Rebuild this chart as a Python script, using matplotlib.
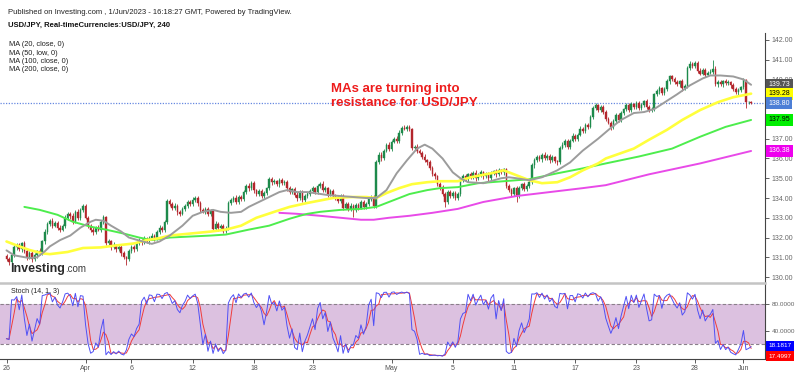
import matplotlib
matplotlib.use('Agg')
import matplotlib.pyplot as plt
import numpy as np
import pandas as pd

plt.rcParams['font.family'] = ['Liberation Sans', 'DejaVu Sans']

# USD/JPY 4h closes, 26 Mar -> 1 Jun 2023
first_open = 131.05
close = [
    130.90, 130.75, 131.10, 131.50, 131.60, 131.40, 131.70, 131.30, 131.00, 131.20,
    130.90, 131.10, 131.30, 131.20, 131.80, 132.30, 132.70, 132.85, 132.60, 132.75,
    132.50, 132.40, 132.60, 133.00, 133.20, 133.10, 132.80, 133.30, 133.00, 133.40,
    133.60, 133.00, 132.60, 132.40, 132.30, 132.50, 132.40, 132.80, 133.05, 131.70,
    131.80, 131.50, 131.60, 131.40, 131.50, 131.20, 131.00, 130.90, 131.30, 131.50,
    131.40, 131.70, 131.85, 131.75, 131.95, 131.80, 132.00, 132.10, 131.95, 132.30,
    132.50, 132.40, 132.80, 133.85, 133.70, 133.50, 133.60, 133.30, 133.20, 133.45,
    133.60, 133.80, 133.70, 133.90, 134.00, 133.75, 133.40, 133.30, 133.45, 133.20,
    133.35, 132.45, 132.70, 132.50, 132.60, 132.35, 132.45, 133.75, 133.90, 134.00,
    133.80, 134.05, 133.95, 134.30, 134.60, 134.50, 134.75, 134.40, 134.20, 134.35,
    134.10, 134.25, 134.50, 134.95, 134.80, 134.85, 134.70, 134.90, 134.75, 134.80,
    134.50, 134.30, 134.45, 134.15, 134.00, 134.30, 133.90, 134.10, 134.20, 134.35,
    134.50, 134.30, 134.60, 134.70, 134.40, 134.50, 134.20, 134.35, 134.10, 134.00,
    133.85, 134.10, 133.50, 133.70, 133.45, 133.60, 133.40, 133.65, 133.50, 133.80,
    133.55, 133.70, 133.95, 134.05, 133.60, 135.80, 136.20, 136.00, 136.40, 136.70,
    136.50, 136.85, 137.00, 136.90, 137.30, 137.55, 137.50, 137.60, 137.50, 136.55,
    136.60, 136.40, 136.30, 136.10, 135.90, 135.80, 135.50, 135.20, 135.10, 134.70,
    134.55, 134.20, 133.80, 134.30, 134.10, 134.25, 134.00, 134.20, 134.95, 135.10,
    134.95, 135.20, 135.05, 135.25, 135.00, 135.15, 135.30, 135.10, 135.20, 135.00,
    135.25, 135.35, 135.20, 135.40, 135.30, 135.45, 134.60, 134.40, 134.20, 134.50,
    134.10, 134.50, 134.70, 134.45, 134.60, 134.80, 135.65, 135.90, 136.10, 135.95,
    136.20, 136.00, 136.15, 135.90, 136.05, 135.85, 135.80, 136.55, 136.70, 136.90,
    136.60, 136.90, 137.15, 137.00, 137.20, 137.50, 137.40, 137.70, 137.60, 138.10,
    138.55, 138.70, 138.45, 138.60, 138.35, 138.00, 137.80, 137.60, 137.90, 138.20,
    137.95, 138.30, 138.50, 138.70, 138.45, 138.75, 138.60, 138.80, 138.55, 138.70,
    138.90, 138.60, 138.45, 138.50, 139.25, 139.40, 139.55, 139.30, 139.50, 139.90,
    140.15, 140.00, 139.85, 139.75, 139.90, 139.55, 139.65, 140.60, 140.80, 140.70,
    140.85, 140.45, 140.30, 140.50, 140.25, 140.35, 140.40, 140.55, 139.75, 139.85,
    139.75, 139.90, 139.80, 139.85, 139.70, 139.50, 139.35, 139.45, 139.60, 139.95,
    138.85, 138.85, 138.80,
]
upper_wick = [
    .10, .12, .08, .15, .10, .12, .08, .10, .15, .10,
    .12, .10, .08, .15, .10, .12, .10, .08, .12, .10,
    .10, .15, .10, .12, .10, .08, .15, .10, .12, .10,
    .12, .10, .08, .10, .12, .10, .15, .10, .08, .05,
    .12, .10, .15, .08, .10, .12, .10, .08, .10, .12,
    .10, .08, .12, .10, .15, .10, .08, .12, .10, .10,
    .12, .10, .08, .08, .10, .12, .15, .10, .08, .12,
    .10, .12, .08, .15, .10, .10, .12, .08, .10, .12,
    .10, .05, .12, .10, .08, .10, .12, .08, .10, .12,
    .15, .10, .08, .12, .10, .15, .10, .12, .08, .10,
    .12, .10, .08, .10, .12, .10, .08, .10, .12, .10,
    .10, .12, .08, .10, .15, .10, .12, .08, .10, .12,
    .10, .08, .12, .10, .15, .10, .08, .12, .10, .08,
    .12, .10, .08, .12, .10, .15, .10, .08, .12, .10,
    .10, .12, .08, .10, .12, .10, .15, .12, .10, .10,
    .15, .10, .08, .12, .15, .10, .12, .10, .08, .05,
    .10, .12, .08, .10, .12, .08, .10, .12, .10, .08,
    .10, .12, .08, .10, .12, .10, .08, .10, .08, .12,
    .10, .08, .12, .10, .15, .10, .12, .08, .10, .12,
    .10, .08, .12, .10, .08, .08, .05, .12, .10, .08,
    .12, .10, .08, .12, .10, .10, .10, .12, .08, .10,
    .10, .12, .08, .10, .12, .10, .08, .10, .12, .10,
    .08, .10, .12, .10, .08, .12, .10, .08, .10, .12,
    .10, .12, .08, .10, .12, .08, .10, .12, .10, .08,
    .10, .12, .08, .10, .12, .10, .08, .10, .12, .10,
    .08, .10, .12, .10, .08, .12, .10, .08, .10, .12,
    .10, .08, .12, .10, .08, .10, .12, .08, .12, .10,
    .10, .08, .12, .10, .08, .10, .12, .45, .12, .10,
    .10, .08, .12, .10, .08, .10, .12, .10, .08, .10,
    .05, .08, .06,
]
lower_wick = [
    .10, .15, .10, .08, .12, .10, .15, .10, .12, .10,
    .12, .10, .15, .08, .10, .12, .10, .12, .10, .08,
    .12, .10, .08, .12, .10, .15, .10, .08, .12, .10,
    .10, .08, .12, .10, .15, .10, .08, .12, .10, .10,
    .10, .12, .08, .15, .10, .12, .10, .30, .10, .08,
    .12, .10, .08, .12, .10, .08, .12, .10, .15, .08,
    .10, .12, .10, .10, .08, .12, .10, .15, .10, .08,
    .12, .10, .08, .10, .12, .15, .10, .08, .12, .10,
    .10, .12, .08, .15, .10, .12, .10, .08, .10, .12,
    .10, .08, .12, .10, .08, .12, .10, .15, .10, .08,
    .12, .10, .08, .10, .12, .08, .10, .12, .10, .08,
    .12, .10, .08, .12, .15, .10, .12, .10, .08, .10,
    .10, .12, .08, .10, .12, .10, .15, .08, .12, .10,
    .10, .12, .10, .08, .12, .10, .35, .10, .12, .08,
    .12, .10, .08, .10, .12, .10, .08, .12, .10, .08,
    .10, .12, .08, .10, .12, .10, .08, .10, .12, .10,
    .12, .10, .08, .12, .10, .12, .08, .10, .12, .10,
    .12, .10, .25, .10, .08, .12, .10, .08, .10, .12,
    .10, .12, .08, .10, .12, .10, .08, .12, .10, .12,
    .08, .10, .12, .08, .10, .12, .10, .08, .12, .10,
    .30, .10, .08, .12, .10, .08, .10, .12, .10, .08,
    .12, .10, .08, .12, .10, .08, .12, .10, .08, .10,
    .12, .10, .08, .12, .10, .08, .10, .12, .10, .08,
    .10, .12, .08, .10, .12, .10, .08, .15, .10, .12,
    .10, .08, .12, .10, .08, .12, .10, .08, .10, .12,
    .10, .08, .12, .10, .08, .10, .12, .10, .08, .10,
    .12, .10, .08, .10, .12, .15, .10, .08, .10, .12,
    .10, .12, .08, .10, .12, .10, .08, .10, .10, .12,
    .10, .12, .08, .10, .12, .10, .08, .12, .10, .08,
    .30, .08, .06,
]

# moving averages, sampled along the drawn lines (bar index, value)
ma20_bar = [0, 3, 9, 12, 15, 17, 21, 25, 29, 33, 35, 38, 41, 45, 48, 52, 57, 60, 64, 69,
            73, 77, 81, 84, 88, 92, 95, 99, 103, 107, 110, 114, 118, 126, 131, 136, 141, 145,
            149, 153, 157, 161, 164, 167, 171, 175, 178, 181, 187, 194, 197, 200, 205, 210,
            216, 221, 226, 232, 237, 241, 246, 250, 254, 257, 263, 268, 273, 276, 280, 285,
            289, 292]
ma20_val = [131.35, 131.10, 130.96, 131.00, 131.30, 131.55, 131.87, 132.10, 132.50, 132.80,
            132.90, 132.85, 132.60, 132.30, 132.00, 131.85, 131.68, 131.80, 132.10, 132.60,
            133.10, 133.30, 133.40, 133.30, 133.25, 133.30, 133.55, 133.80, 134.05, 134.30,
            134.40, 134.30, 134.30, 134.15, 134.10, 134.05, 134.00, 134.00, 134.40, 135.25,
            135.90, 136.50, 136.70, 136.50, 136.00, 135.30, 135.00, 134.80, 134.75, 135.00,
            135.05, 135.00, 134.90, 135.05, 135.40, 135.80, 136.40, 137.00, 137.55, 137.95,
            138.30, 138.35, 138.50, 138.75, 139.25, 139.70, 140.05, 140.20, 140.20, 140.15,
            140.00, 139.73]
ma50_bar = [0, 4, 9, 14, 17, 24, 30, 37, 43, 50, 55, 60, 64, 72, 80, 86, 92, 98, 105, 111,
            118, 122, 128, 135, 141, 145, 149, 154, 159, 165, 170, 177, 182, 190, 195, 200,
            205, 210, 216, 221, 226, 232, 235, 246, 252, 259, 265, 272, 279, 285, 292]
ma50_val = [131.80, 131.60, 131.37, 131.20, 131.16, 131.27, 131.47, 131.50, 131.60, 131.70,
            131.87, 131.97, 132.10, 132.20, 132.30, 132.40, 132.60, 133.00, 133.30, 133.55,
            133.75, 133.85, 134.00, 134.05, 134.05, 134.00, 134.25, 134.50, 134.70, 134.80,
            134.85, 134.85, 135.05, 135.25, 135.40, 135.15, 134.90, 134.75, 134.80, 135.05,
            135.40, 135.75, 136.00, 136.50, 136.95, 137.45, 137.95, 138.45, 138.85, 139.10,
            139.28]
ma100_bar = [7, 13, 20, 26, 33, 39, 46, 52, 57, 64, 72, 80, 86, 95, 103, 111, 115, 118, 123,
             131, 139, 145, 152, 158, 165, 170, 177, 185, 195, 205, 216, 226, 235, 248, 261,
             272, 282, 292]
ma100_val = [133.55, 133.40, 133.15, 132.80, 132.55, 132.40, 132.20, 132.00, 131.87, 132.00,
             132.05, 132.10, 132.15, 132.40, 132.60, 132.95, 133.10, 133.20, 133.30, 133.40,
             133.45, 133.55, 133.90, 134.20, 134.40, 134.50, 134.55, 134.75, 134.85, 134.95,
             135.25, 135.50, 135.75, 136.10, 136.50, 137.10, 137.60, 137.95]
ma200_bar = [107, 114, 123, 131, 139, 144, 150, 158, 167, 177, 187, 200, 213, 226, 235, 252,
             272, 292]
ma200_val = [133.25, 133.20, 133.10, 133.00, 132.90, 132.90, 133.00, 133.10, 133.25, 133.45,
             133.80, 134.10, 134.30, 134.50, 134.65, 135.20, 135.75, 136.38]

ma_names = ['MA (20, close, 0)', 'MA (50, low, 0)', 'MA (100, close, 0)', 'MA (200, close, 0)']
ma_last = [139.73, 139.28, 137.95, 136.38]
last_price = 138.80
stoch_last = [18.1817, 17.4997]

tick_bars = [0, 31, 49, 73, 97, 120, 151, 175, 199, 223, 247, 270, 289]
tick_labels = ['26', 'Apr', '6', '12', '18', '23', 'May', '5', '11', '17', '23', '28', 'Jun']
price_ticks = list(range(130, 143))
# 138.00 and 139.00 sit fully behind the value boxes in the original
hidden_ticks = [138, 139]

UP, DOWN = '#1d8a4b', '#b3262c'
MA_COLORS = ['#9c9c9c', '#ffff3c', '#4ded4d', '#e84ae8']
MA_WIDTHS = [1.4, 1.9, 1.4, 1.4]

c = np.array(close)
o = np.r_[first_open, c[:-1]]
hi = np.maximum(o, c) + np.array(upper_wick)
lo = np.minimum(o, c) - np.array(lower_wick)
idx = np.arange(len(c))
cols = np.where(c >= o, UP, DOWN)

# Stoch (14, 1, 3)
hh = pd.Series(hi).rolling(14, min_periods=1).max()
ll = pd.Series(lo).rolling(14, min_periods=1).min()
k_line = 100 * (pd.Series(c) - ll) / (hh - ll)
d_line = k_line.rolling(3, min_periods=1).mean()

fig = plt.figure(figsize=(8, 3.76), dpi=100)
W, H = 800.0, 376.0
x_lo, x_hi = -2.55, 297.45

ax = fig.add_axes([0, 1 - 282 / H, 765 / W, (282 - 33) / H])
ax.set_xlim(x_lo, x_hi)
ax.set_ylim(129.75, 142.35)

ax.vlines(idx, lo, hi, colors=cols, lw=0.6, zorder=2)
ax.bar(idx, np.maximum(np.abs(c - o), 0.03), bottom=np.minimum(o, c), width=0.62,
       color=cols, edgecolor=cols, lw=0.3, zorder=2)

ma_series = [(ma20_bar, ma20_val), (ma50_bar, ma50_val), (ma100_bar, ma100_val), (ma200_bar, ma200_val)]
for (xb, yv), col, lw in zip(ma_series[::-1], MA_COLORS[::-1], MA_WIDTHS[::-1]):
    ax.plot(xb, yv, color=col, lw=lw, solid_capstyle='round', zorder=3)

ax.axhline(last_price, color='#6688e0', ls=(0, (1, 1.2)), lw=0.9, zorder=1)

for s in ['left', 'top', 'bottom']:
    ax.spines[s].set_visible(False)
ax.spines['right'].set_color('#444444')
ax.spines['right'].set_linewidth(0.8)
ax.yaxis.tick_right()
ax.set_yticks(price_ticks)
ax.set_yticklabels(['' if p in hidden_ticks else '%.2f' % p for p in price_ticks])
ax.tick_params(axis='y', length=3, width=0.6, colors='#444444', labelsize=5, pad=2,
               labelcolor='#666666')
ax.set_xticks([])

box_style = [('#555555', 'white'), ('#ffff00', 'black'), ('#00ee00', 'black'), ('#ee00ee', 'white')]
for val, (fc, tc) in zip(ma_last, box_style):
    ax.annotate('%.2f' % val, xy=(1.0, val), xycoords=('axes fraction', 'data'),
                xytext=(2.5, 0), textcoords='offset points', va='center', ha='left',
                fontsize=5, color=tc, annotation_clip=False, zorder=5,
                bbox=dict(boxstyle='square,pad=0.35', fc=fc, ec='none'))
ax.annotate('%.2f' % last_price, xy=(1.0, last_price), xycoords=('axes fraction', 'data'),
            xytext=(2.5, 0), textcoords='offset points', va='center', ha='left',
            fontsize=5, color='white', annotation_clip=False, zorder=5,
            bbox=dict(boxstyle='square,pad=0.35', fc='#4d7fd6', ec='none'))

# stochastic panel
sx = fig.add_axes([0, 1 - 359 / H, 765 / W, (359 - 283) / H])
sx.set_xlim(x_lo, x_hi)
sx.set_ylim(-1.5, 111)
sx.axhspan(20, 80, color='#dcc1e0', lw=0, zorder=0)
sx.axhline(80, color='#8a7f8a', ls=(0, (3, 2)), lw=0.8, zorder=1)
sx.axhline(20, color='#8a7f8a', ls=(0, (3, 2)), lw=0.8, zorder=1)
sx.plot(idx, d_line, color='#f03c3c', lw=0.7, zorder=2)
sx.plot(idx, k_line, color='#5050f5', lw=0.7, zorder=3)
sx.spines['left'].set_visible(False)
sx.spines['top'].set_color('#c4c4c4')
sx.spines['top'].set_linewidth(1.8)
sx.spines['right'].set_color('#444444')
sx.spines['right'].set_linewidth(0.8)
sx.spines['bottom'].set_color('#444444')
sx.spines['bottom'].set_linewidth(0.8)
sx.yaxis.tick_right()
sx.set_yticks([80, 40])
sx.set_yticklabels(['80.0000', '40.0000'])
sx.tick_params(axis='y', length=3, width=0.6, colors='#444444', labelsize=4.6, pad=2,
               labelcolor='#666666')
sx.set_xticks(tick_bars)
sx.set_xticklabels(tick_labels)
sx.tick_params(axis='x', length=3, width=0.6, colors='#444444', labelsize=5, pad=1.5,
               labelcolor='#555555')
sx.text(0.014, 0.93, 'Stoch (14, 1, 3)', transform=sx.transAxes, fontsize=5,
        color='#222222', va='top', ha='left')
sx.annotate('%.4f' % stoch_last[0], xy=(1.0, stoch_last[0]), xycoords=('axes fraction', 'data'),
            xytext=(2.5, 0), textcoords='offset points', va='center', ha='left',
            fontsize=4.6, color='white', annotation_clip=False,
            bbox=dict(boxstyle='square,pad=0.4', fc='#0000ff', ec='none'))
sx.annotate('%.4f' % stoch_last[1], xy=(1.0, stoch_last[1]), xycoords=('axes fraction', 'data'),
            xytext=(2.5, -7.2), textcoords='offset points', va='center', ha='left',
            fontsize=4.6, color='white', annotation_clip=False,
            bbox=dict(boxstyle='square,pad=0.4', fc='#ff0000', ec='none'))

# header and annotations
fig.text(8 / W, 1 - 13 / H, 'Published on Investing.com , 1/Jun/2023 - 16:18:27 GMT, Powered by TradingView.',
         fontsize=5.5, color='#222222', va='center', ha='left')
fig.text(8 / W, 1 - 25.5 / H, 'USD/JPY, Real-timeCurrencies:USD/JPY, 240',
         fontsize=5.5, weight='bold', color='#111111', va='center', ha='left')
for i, name in enumerate(ma_names):
    fig.text(9 / W, 1 - (45 + 8.2 * i) / H, name, fontsize=5.3, color='#222222',
             va='center', ha='left')

fig.text(331 / W, 1 - 96 / H, 'MAs are turning into\nresistance for USD/JPY', fontsize=9.5,
         weight='bold', color='#ee1c1c', va='center', ha='left', linespacing=1.15)

fig.text(10 / W, 1 - 272 / H, 'Investing', fontsize=9, weight='bold', color='#2a2a2a',
         va='baseline', ha='left')
fig.text(65 / W, 1 - 272 / H, '.com', fontsize=7, color='#3a3a3a', va='baseline', ha='left')

fig.savefig('out.png', dpi=100)
